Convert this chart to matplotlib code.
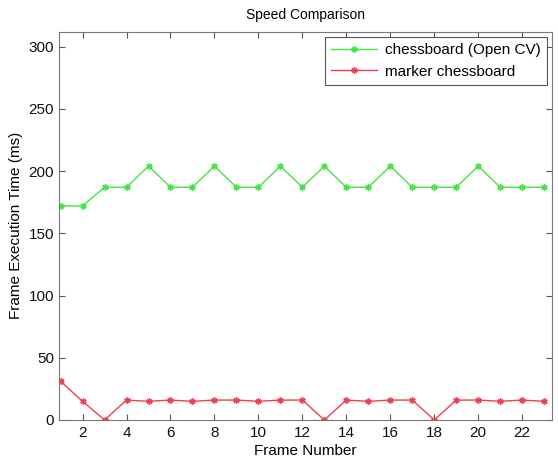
import matplotlib
matplotlib.use("Agg")
import matplotlib.pyplot as plt

frames = list(range(1, 24))
opencv = [172, 172, 187, 187, 204, 187, 187, 204, 187, 187, 204, 187, 204,
          187, 187, 204, 187, 187, 187, 204, 187, 187, 187]
marker = [31, 15, 0, 16, 15, 16, 15, 16, 16, 15, 16, 16, 0,
          16, 15, 16, 16, 0, 16, 16, 15, 16, 15]
xticks = [2, 4, 6, 8, 10, 12, 14, 16, 18, 20, 22]
yticks = [0, 50, 100, 150, 200, 250, 300]

plt.rcParams['font.family'] = ['Liberation Sans', 'DejaVu Sans']
fig = plt.figure(figsize=(5.58, 4.59), dpi=100)
ax = fig.add_axes([0.1066, 0.085, 0.8824, 0.846])

ast = (6, 2, 0)
ax.plot(frames, opencv, color='#44e444', marker=ast, markersize=4.5, mew=1.1,
        lw=1, label='chessboard (Open CV)')
ax.plot(frames, marker, color='#ee4050', marker=ast, markersize=4.5, mew=1.1,
        lw=1, label='marker chessboard')

ax.set_xlim(0.95, 23.35)
ax.set_ylim(0, 312)
ax.set_xticks(xticks)
ax.set_yticks(yticks)
ax.tick_params(direction='in', top=True, right=True, labelsize=11,
               length=4, color='#555555', labelcolor='#111111', pad=4)
for s in ax.spines.values():
    s.set_color('#777777')
    s.set_linewidth(0.8)

ax.set_xlabel('Frame Number', fontsize=11, labelpad=3)
ax.set_ylabel('Frame Execution Time (ms)', fontsize=11, labelpad=4)
ax.set_title('Speed Comparison', fontsize=10, pad=9)

leg = ax.legend(loc='upper right', fontsize=11, fancybox=False,
                edgecolor='#555555', framealpha=1, handlelength=3.0,
                handletextpad=0.5, borderaxespad=0.35)
leg.get_frame().set_linewidth(0.8)

fig.savefig('out.png', dpi=100)
